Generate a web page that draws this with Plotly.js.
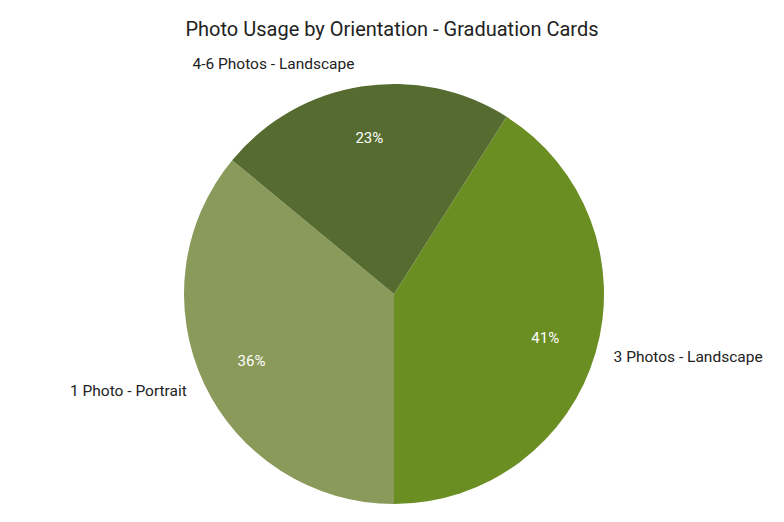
<!DOCTYPE html>
<html>
<head>
<meta charset="utf-8">
<script src="https://cdn.plot.ly/plotly-3.0.1.min.js"></script>
<style>html,body{margin:0;padding:0;background:#fff;}#chart{width:784px;height:522px;}</style>
</head>
<body>
<div id="chart"></div>
<script>
const categories = ["3 Photos - Landscape", "1 Photo - Portrait", "4-6 Photos - Landscape"];
const shares = [41, 36, 23];
const sliceColors = ["#6b8e23", "#8a9a5b", "#556b2f"];

const W = 784, H = 522;
const cx = 394, cy = 294, R = 210, RL = 224;
function domainFor(r) {
  return {
    x: [(cx - r) / W, (cx + r) / W],
    y: [1 - (cy + r) / H, 1 - (cy - r) / H]
  };
}
const font = "Roboto, 'Noto Sans', sans-serif";
const clear = ["rgba(0,0,0,0)", "rgba(0,0,0,0)", "rgba(0,0,0,0)"];

const base = {
  type: "pie",
  labels: categories,
  values: shares,
  sort: false,
  direction: "clockwise",
  rotation: 32.4,
  showlegend: false
};

const slices = Object.assign({}, base, {
  domain: domainFor(R),
  marker: { colors: sliceColors, line: { width: 0 } },
  textinfo: "none",
  hoverinfo: "label+percent"
});
const percents = Object.assign({}, base, {
  domain: domainFor(R),
  hole: 0.5,
  marker: { colors: clear, line: { width: 0 } },
  textinfo: "percent",
  textposition: "inside",
  insidetextorientation: "horizontal",
  textfont: { family: font, size: 15, color: "#ffffff" },
  hoverinfo: "skip"
});
const labelsTrace = Object.assign({}, base, {
  domain: domainFor(RL),
  marker: { colors: clear, line: { width: 0 } },
  textinfo: "label",
  textposition: "outside",
  automargin: false,
  outsidetextfont: { family: font, size: 15.5, color: "#222222" },
  hoverinfo: "skip"
});

const layout = {
  width: W, height: H,
  margin: { l: 0, r: 0, t: 0, b: 0 },
  paper_bgcolor: "#ffffff",
  title: {
    text: "Photo Usage by Orientation - Graduation Cards",
    font: { family: font, size: 20, color: "#222222" },
    x: 0.5, xanchor: "center",
    y: 1 - 29 / H, yanchor: "middle", yref: "container"
  },
  showlegend: false
};

Plotly.newPlot("chart", [slices, percents, labelsTrace], layout, { displayModeBar: false, staticPlot: true });
</script>
</body>
</html>
